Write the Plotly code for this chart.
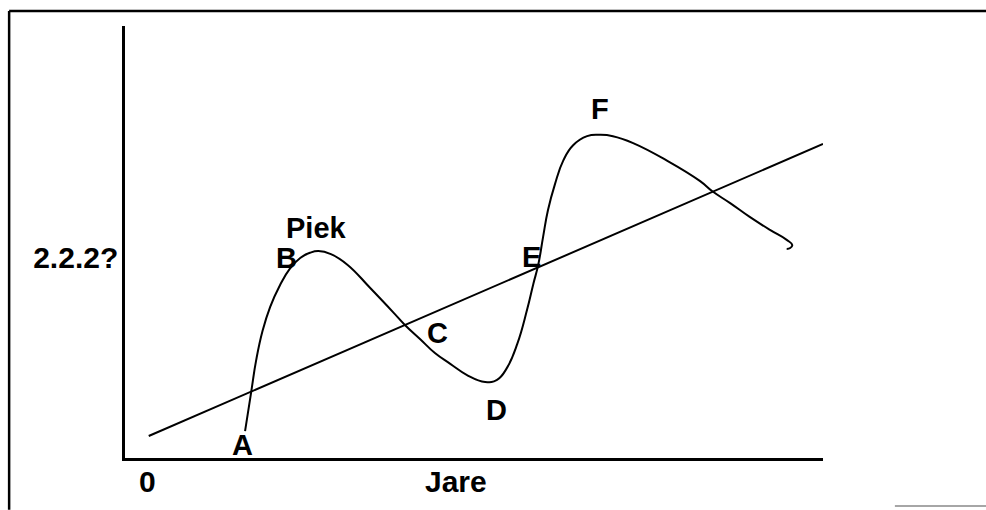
import plotly.graph_objects as go

# business cycle sketch, x = time (0-100), y = level (0-100)
cycle_x = [17.2, 18.1, 18.8, 19.7, 20.8, 22.2, 23.6, 25.1, 26.5, 27.7, 29.5, 31.9, 35.1,
           38.5, 40.1, 42.3, 44.4, 46.6, 49.0, 51.6, 53.3, 54.7, 56.2, 57.6, 58.5, 59.2,
           59.9, 60.6, 61.6, 62.8, 64.2, 66.2, 68.1, 69.9, 72.8, 77.7, 82.4, 84.1, 86.7,
           89.5, 92.4, 94.8, 95.6, 95.3, 94.8]
cycle_y = [6.2, 15.5, 22.7, 29.4, 35.0, 40.0, 43.8, 46.3, 47.5, 47.9, 47.2, 44.7, 39.4,
           33.6, 30.8, 27.5, 24.3, 21.8, 19.2, 17.6, 18.1, 20.8, 26.4, 34.3, 40.3, 44.7,
           51.2, 57.4, 63.4, 68.9, 72.4, 74.5, 74.8, 74.5, 72.9, 68.8, 64.1, 61.8, 59.0,
           55.8, 52.8, 50.5, 49.3, 48.6, 48.4]

trend_x = [3.4, 100.0]
trend_y = [5.1, 72.7]

point_labels = ["A", "B", "Piek", "C", "D", "E", "F"]
label_x = [16.9, 23.1, 27.4, 44.8, 53.2, 58.3, 68.1]
label_y = [3.0, 46.3, 53.3, 29.0, 11.1, 46.5, 80.9]

x_tick_vals = [3.2, 47.4]
x_tick_text = ["0", "Jare"]
y_tick_vals = [46.3]
y_tick_text = ["2.2.2?"]

FONT = dict(family="Liberation Sans, Arial, sans-serif", size=30, color="black", weight="bold")
LABEL_FONT = dict(FONT, size=29)

fig = go.Figure()
fig.add_trace(go.Scatter(x=trend_x, y=trend_y, mode="lines",
                         line=dict(color="black", width=2), hoverinfo="skip"))
fig.add_trace(go.Scatter(x=cycle_x, y=cycle_y, mode="lines",
                         line=dict(color="black", width=2, shape="spline", smoothing=1.3),
                         hoverinfo="skip"))

for t, x, y in zip(point_labels, label_x, label_y):
    fig.add_annotation(x=x, y=y, text=t, showarrow=False, font=LABEL_FONT,
                       xanchor="center", yanchor="middle")

# outer frame of the scanned figure
fig.add_shape(type="line", xref="paper", yref="paper", x0=-0.166, x1=1.24, y0=1.035, y1=1.035,
              line=dict(color="black", width=2.5))
fig.add_shape(type="line", xref="paper", yref="paper", x0=-0.166, x1=-0.166, y0=1.035, y1=-0.12,
              line=dict(color="black", width=2.5))
fig.add_shape(type="line", xref="paper", yref="paper", x0=1.103, x1=1.24, y0=-0.111, y1=-0.111,
              line=dict(color="#888888", width=1.5))

fig.update_layout(
    width=986, height=510,
    margin=dict(l=125, r=163, t=26, b=50),
    plot_bgcolor="white", paper_bgcolor="white",
    showlegend=False,
    xaxis=dict(range=[0, 100], showgrid=False, zeroline=False, showline=True,
               linecolor="black", linewidth=2.5, tickvals=x_tick_vals, ticktext=x_tick_text,
               tickfont=FONT, ticks="", ticklabelstandoff=-5),
    yaxis=dict(range=[0, 100], showgrid=False, zeroline=False, showline=True,
               linecolor="black", linewidth=2.5, tickvals=y_tick_vals, ticktext=y_tick_text,
               tickfont=FONT, ticks="", ticklabelstandoff=-2),
)

fig.write_html("out.html", config={"displayModeBar": False},
               post_script="document.body.style.margin='0';")
